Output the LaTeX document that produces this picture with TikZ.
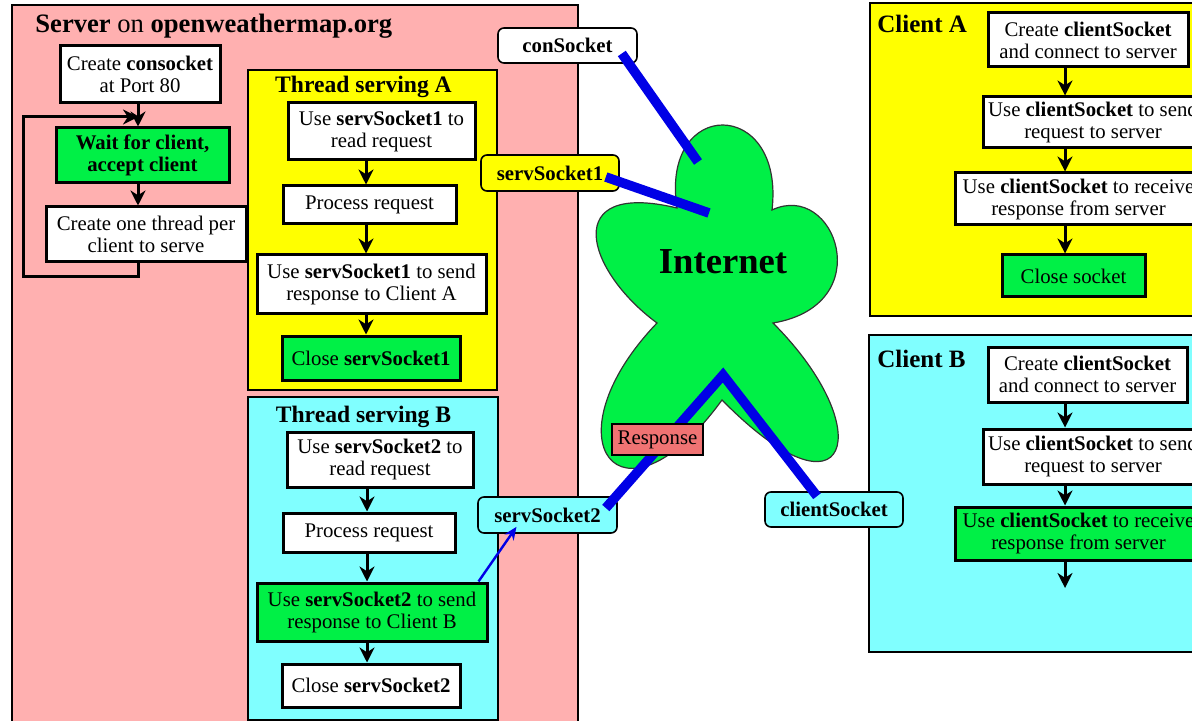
\documentclass[tikz,border=0pt]{standalone}
\usepackage{fontspec}
\setmainfont{Liberation Serif}
\usetikzlibrary{arrows.meta,calc}

\definecolor{srvpink}{RGB}{255,176,176}
\definecolor{thryellow}{RGB}{255,255,0}
\definecolor{thrcyan}{RGB}{128,255,255}
\definecolor{boxgreen}{RGB}{0,240,70}
\definecolor{tagsalmon}{RGB}{240,115,115}
\definecolor{wireblue}{RGB}{0,0,230}

\newcommand\txtsz{\fontsize{10.4}{11}\selectfont}

\tikzset{
  panel/.style={draw=black, line width=1pt},
  px/.style 2 args={minimum width={#1*0.5pt}, minimum height={#2*0.5pt}},
  stepbox/.style={draw=black, line width=1.5pt, fill=white, align=center,
    inner sep=1pt, font=\txtsz},
  gbox/.style={stepbox, fill=boxgreen},
  tag/.style={draw=black, line width=0.8pt, rounded corners=3pt,
    font=\txtsz\bfseries, inner sep=1pt},
  flow/.style={line width=1.5pt, -{Stealth[length=7.5pt, width=7.5pt, inset=2.4pt]}},
  wire/.style={draw=wireblue, line width=4.8pt, line join=miter},
  ptitle/.style={inner sep=0pt, font=\fontsize{11.8}{13}\selectfont\bfseries},
}

\begin{document}
\begin{tikzpicture}[x=0.5pt, y=-0.5pt]
\useasboundingbox (0,0) rectangle (1192,721);
\clip (0,0) rectangle (1192,721);

% ---------------- server side ----------------
\draw[panel, fill=srvpink] (12,5) rectangle (578,735);
\node[anchor=base west, inner sep=0pt, font=\fontsize{13.3}{14}\selectfont]
  (srvtitle) at (35,33) {\textbf{Server} on \textbf{openweathermap.org}};

\node[stepbox, px={160}{57}] (c1) at (140,74.5) {Create \textbf{consocket}\\at Port 80};
\node[gbox, px={173}{55}, font=\txtsz\bfseries] (c2) at (142.5,155.5) {Wait for client,\\accept client};
\node[stepbox, px={200}{55}] (c3) at (146,234.5) {Create one thread per\\client to serve};

\coordinate (srvcol) at (138,0);
\coordinate (loopL) at (23,277);
\coordinate (loopT) at (23,117);
\draw[flow] (c1.south -| srvcol) -- (c2.north -| srvcol);
\draw[flow] (c2.south -| srvcol) -- (c3.north -| srvcol);
\draw[flow] (c3.south -| srvcol) |- (loopL) -- (loopT) -- (loopT -| srvcol);

% thread serving client A
\draw[panel, fill=thryellow] (248,70) rectangle (497,390);
\node[ptitle, anchor=base] (tatitle) at (363.5,93) {Thread serving A};
\node[stepbox, px={187}{57}] (a1) at (381.5,131.5) {Use \textbf{servSocket1} to\\read request};
\node[stepbox, px={173}{38}] (a2) at (369.5,205) {Process request};
\node[stepbox, px={229}{59}] (a3) at (371.5,284.5) {Use \textbf{servSocket1} to send\\response to Client A};
\node[gbox, px={178}{44}] (a4) at (371,358) {Close \textbf{servSocket1}};
\coordinate (colTA) at (366,0);
\draw[flow] (a1.south -| colTA) -- (a2.north -| colTA);
\draw[flow] (a2.south -| colTA) -- (a3.north -| colTA);
\draw[flow] (a3.south -| colTA) -- (a4.north -| colTA);

% thread serving client B
\draw[panel, fill=thrcyan] (248,397) rectangle (498,720);
\node[ptitle, anchor=base] (tbtitle) at (363.5,422) {Thread serving B};
\node[stepbox, px={186}{55}] (b1) at (380,459.5) {Use \textbf{servSocket2} to\\read request};
\node[stepbox, px={172}{39}] (b2) at (369,532.5) {Process request};
\node[gbox, px={230}{58}] (b3) at (372,612) {Use \textbf{servSocket2} to send\\response to Client B};
\node[stepbox, px={178}{43}] (b4) at (371,685.5) {Close \textbf{servSocket2}};
\coordinate (colTB) at (367,0);
\draw[flow] (b1.south -| colTB) -- (b2.north -| colTB);
\draw[flow] (b2.south -| colTB) -- (b3.north -| colTB);
\draw[flow] (b3.south -| colTB) -- (b4.north -| colTB);

% ---------------- client side ----------------
\draw[panel, fill=thryellow] (870,3) rectangle (1210,316);
\node[anchor=base west, inner sep=0pt, font=\fontsize{12.5}{13}\selectfont\bfseries]
  (catitle) at (877,33) {Client A};
\node[stepbox, px={200}{54}] (ca1) at (1088,40) {Create \textbf{clientSocket}\\and connect to server};
\node[stepbox, px={220}{51}] (ca2) at (1093,122.5) {Use \textbf{clientSocket} to send\\request to server};
\node[stepbox, px={247}{52}] (ca3) at (1078.5,199) {Use \textbf{clientSocket} to receive\\response from server};
\node[gbox, px={143}{42}] (ca4) at (1073.5,276) {Close socket};
\coordinate (colA) at (1065,0);
\draw[flow] (ca1.south -| colA) -- (ca2.north -| colA);
\draw[flow] (ca2.south -| colA) -- (ca3.north -| colA);
\draw[flow] (ca3.south -| colA) -- (ca4.north -| colA);

\draw[panel, fill=thrcyan] (869,335) rectangle (1210,652);
\node[anchor=base west, inner sep=0pt, font=\fontsize{12.5}{13}\selectfont\bfseries]
  (cbtitle) at (877,367) {Client B};
\node[stepbox, px={199}{55}] (cb1) at (1087.5,374.5) {Create \textbf{clientSocket}\\and connect to server};
\node[stepbox, px={220}{55}] (cb2) at (1093,456.5) {Use \textbf{clientSocket} to send\\request to server};
\node[gbox, px={247}{53}] (cb3) at (1078.5,533.5) {Use \textbf{clientSocket} to receive\\response from server};
\coordinate (colB) at (1065,0);
\coordinate (cbnext) at (1065,588);
\draw[flow] (cb1.south -| colB) -- (cb2.north -| colB);
\draw[flow] (cb2.south -| colB) -- (cb3.north -| colB);
\draw[flow] (cb3.south -| colB) -- (cbnext);

% ---------------- the Internet ----------------
\draw[fill=boxgreen, draw=black!80, line width=0.6pt]
  (677,208) .. controls (660,97) and (785,97) .. (772,210)
  .. controls (835,180) and (880,305) .. (773,323)
  .. controls (880,430) and (850,530) .. (722,400)
  .. controls (620,540) and (545,440) .. (657,323)
  .. controls (585,270) and (560,180) .. (677,208) -- cycle;
\node[inner sep=0pt, font=\fontsize{18.3}{20}\selectfont\bfseries] (inet) at (723,262) {Internet};

% socket tags
\node[tag, fill=white, px={139}{35}] (cons) at (567.5,45.5) {conSocket};
\node[tag, fill=thryellow, px={138}{36}] (ss1) at (550,173) {servSocket1};
\node[tag, fill=thrcyan, px={139}{36}] (ss2) at (547.5,515) {servSocket2};
\node[tag, fill=thrcyan, px={138}{35}] (cs) at (834,509.5) {clientSocket};

% socket connections through the Internet
\coordinate (netA) at (698,162);
\coordinate (netB) at (709,213);
\coordinate (netApex) at (723,375);
\draw[wire] ($(cons.east)+(-16,8)$) -- (netA);
\draw[wire] ($(ss1.east)+(-14,4)$) -- (netB);
\draw[wire] ($(ss2.east)+(-12,-7)$) -- (netApex) -- ($(cs.north)+(-17,5)$);
\draw[draw=wireblue, line width=1.2pt, -{Stealth[length=6.5pt, width=5.5pt]}]
  ($(b3.north east)+(-10,0)$) -- ($(ss2.south)+(-31,-7)$);

\node[draw=black, line width=1pt, fill=tagsalmon, inner sep=1pt, font=\txtsz,
  px={91}{31}] (resp) at (657.5,439.5) {Response};
\end{tikzpicture}
\end{document}
